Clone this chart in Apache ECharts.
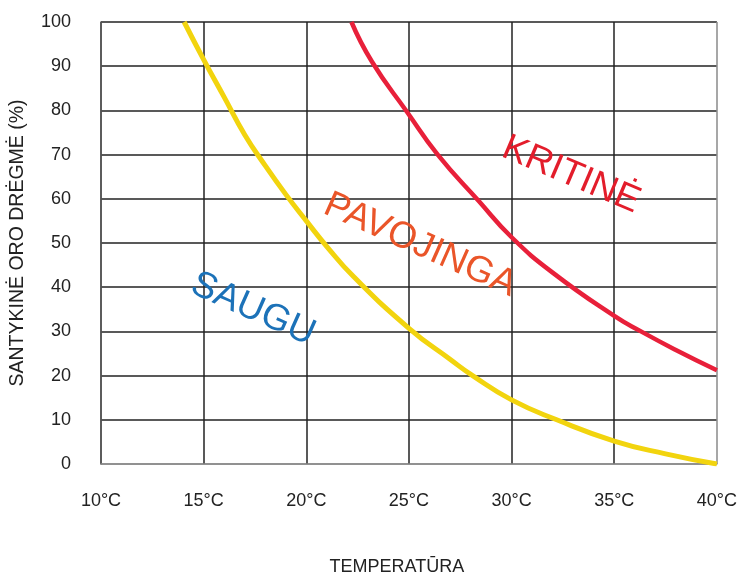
<!DOCTYPE html>
<html>
<head>
<meta charset="utf-8">
<script src="https://cdn.jsdelivr.net/npm/echarts@6/dist/echarts.min.js"></script>
<style>html,body{margin:0;padding:0;background:#fff;}#c{width:740px;height:581px;}</style>
</head>
<body>
<div id="c"></div>
<script>
// Temperature ticks (°C) and humidity ticks (%)
var xTicks = [10, 15, 20, 25, 30, 35, 40];
var yTicks = [0, 10, 20, 30, 40, 50, 60, 70, 80, 90, 100];

// SAUGU / PAVOJINGA boundary (yellow)
var safeTemp = [14.05, 15, 16, 17, 18, 19, 20, 21, 22.3, 25, 27, 28.1, 30, 32.2, 35, 37.5, 40];
var safeHum  = [100, 91.5, 83, 74.5, 67.5, 61, 55, 49.2, 42.4, 30.7, 23.7, 20, 14.5, 10, 5.2, 2.3, 0];

// PAVOJINGA / KRITINĖ boundary (red)
var critTemp = [22.2, 23.2, 24.9, 26.4, 28.4, 30, 32, 35, 36.3, 38, 40];
var critHum  = [100, 91, 79.7, 70, 59.5, 51.3, 43.3, 33.5, 30, 25.8, 21.2];

// Zone labels
var zoneNames = ['SAUGU', 'PAVOJINGA', 'KRITINĖ'];
var zoneTemp  = [17.4, 25.55, 32.9];
var zoneHum   = [35, 49.5, 65.4];
var zoneColors = ['#1c72b8', '#ea5529', '#e31d2b'];
var zoneRotate = [-24, -24, -23];

function pairs(a, b) { return a.map(function (v, i) { return [v, b[i]]; }); }

var font = '"Liberation Sans", Arial, Helvetica, sans-serif';
var chart = echarts.init(document.getElementById('c'));

var labelSeries = zoneNames.map(function (n, i) {
  return {
    type: 'scatter',
    symbolSize: 0,
    silent: true,
    z: 5,
    itemStyle: { opacity: 1 },
    data: [{ value: [zoneTemp[i], zoneHum[i]], name: n }],
    label: {
      show: true,
      position: 'inside',
      formatter: '{b}',
      rotate: zoneRotate[i],
      color: zoneColors[i],
      opacity: 1,
      fontSize: 37,
      fontFamily: font,
      align: 'center',
      verticalAlign: 'middle'
    }
  };
});

chart.setOption({
  animation: false,
  backgroundColor: '#ffffff',
  grid: { left: 99, right: 23, top: 22, bottom: 111 },
  xAxis: {
    type: 'value',
    min: 10, max: 40, interval: 5,
    name: 'TEMPERATŪRA',
    nameLocation: 'middle',
    nameGap: 94,
    nameTextStyle: { fontSize: 18, fontFamily: font, color: '#222', padding: [0, 24, 0, 0] },
    axisLine: { show: true, lineStyle: { color: '#8a8a8a', width: 1.5 } },
    axisTick: { show: false },
    axisLabel: {
      margin: 28, fontSize: 18, fontFamily: font, color: '#222',
      formatter: function (v) { return xTicks.indexOf(v) >= 0 ? v + '°C' : ''; }
    },
    splitLine: { show: true, lineStyle: { color: ['#444', '#222', '#222', '#222', '#222', '#222', '#8a8a8a'], width: 1.5 } }
  },
  yAxis: {
    type: 'value',
    min: 0, max: 100, interval: 10,
    name: 'SANTYKINĖ ORO DRĖGMĖ (%)',
    nameLocation: 'middle',
    nameRotate: 90,
    nameGap: 73,
    nameTextStyle: { fontSize: 19.5, fontFamily: font, color: '#222' },
    axisLine: { show: true, lineStyle: { color: '#555', width: 1.5 } },
    axisTick: { show: false },
    axisLabel: {
      margin: 30, fontSize: 18, fontFamily: font, color: '#222', padding: [3, 0, 0, 0],
      formatter: function (v) { return yTicks.indexOf(v) >= 0 ? String(v) : ''; }
    },
    splitLine: { show: true, lineStyle: { color: ['#8a8a8a', '#222', '#222', '#222', '#222', '#222', '#222', '#222', '#222', '#222', '#222'], width: 1.5 } }
  },
  series: [
    {
      type: 'line', data: pairs(safeTemp, safeHum), smooth: 0.5,
      symbol: 'none', silent: true, z: 3,
      lineStyle: { color: '#f2d40e', width: 5 }
    },
    {
      type: 'line', data: pairs(critTemp, critHum), smooth: 0.5,
      symbol: 'none', silent: true, z: 3,
      lineStyle: { color: '#e8203a', width: 4.5 }
    }
  ].concat(labelSeries)
});
</script>
</body>
</html>
